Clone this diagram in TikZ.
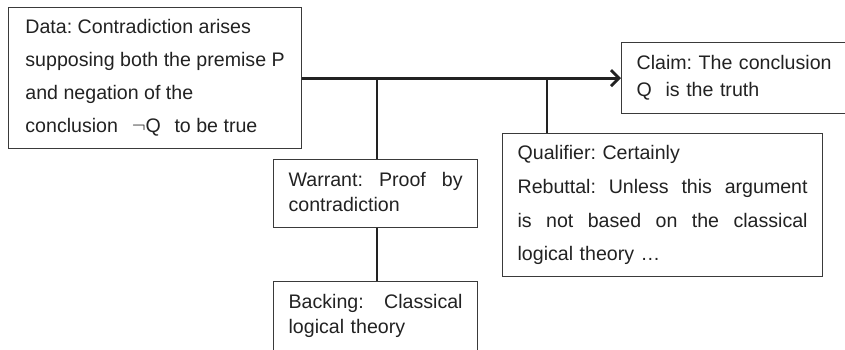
\documentclass[tikz,border=0pt]{standalone}
\usepackage{fontspec}
\setmainfont{Liberation Sans}
\usetikzlibrary{arrows.meta}
\definecolor{ink}{HTML}{222222}
\definecolor{frame}{HTML}{3A3A3A}
\tikzset{
  tbox/.style={draw=frame,line width=1.2pt,rectangle,anchor=north west,inner xsep=15pt,align=left,text=ink},
  link/.style={draw=ink,line width=2.8pt}
}
\newcommand{\spreadline}[2]{\makebox[#1][s]{#2}}
\frenchspacing
\begin{document}
\begin{tikzpicture}[x=1pt,y=-1pt]
  \useasboundingbox (0,0) rectangle (845,349);
  \clip (0,0) rectangle (845,349);

  \node[tbox,minimum width=293pt,minimum height=141pt,font=\fontsize{19.6}{33}\selectfont] (data) at (8,7)
    {Data: Contradiction arises\\supposing both the premise P\\and negation of the\\conclusion\hspace{0.7em}$\neg\mathrm{Q}$\hspace{0.7em}to be true};
  \node[tbox,minimum height=71pt,text width=210pt,font=\fontsize{19.6}{27}\selectfont] (claim) at (621,42)
    {Claim: The conclusion\\$\mathrm{Q}$\hspace{0.7em}is the truth};
  \node[tbox,inner ysep=9pt,text width=174pt,font=\fontsize{19.6}{25}\selectfont] (warrant) at (273,159)
    {\spreadline{174pt}{\strut Warrant:\hfill Proof\hfill by}\\contradiction\strut};
  \node[tbox,inner ysep=12.7pt,text width=174pt,font=\fontsize{19.6}{25}\selectfont] (backing) at (273,281)
    {\spreadline{174pt}{Backing:\hfill Classical}\\logical theory\\\strut};
  \node[tbox,minimum height=143pt,text width=290pt,font=\fontsize{19.6}{33.7}\selectfont] (qual) at (502,133)
    {Qualifier: Certainly\\\spreadline{290pt}{Rebuttal:\hfill Unless\hfill this\hfill argument}\\\spreadline{290pt}{is\hfill not\hfill based\hfill on\hfill the\hfill classical}\\logical theory …};

  \coordinate (fork) at (547,77.5);
  \coordinate (stem) at (377,77.5);
  \draw[link,-{Straight Barb[length=8pt,width=16pt]}] (data.east) -- (claim.west);
  \draw[link] (stem) -- (stem |- warrant.north);
  \draw[link] (stem |- warrant.south) -- (stem |- backing.north);
  \draw[link] (fork) -- (fork |- qual.north);
\end{tikzpicture}
\end{document}
